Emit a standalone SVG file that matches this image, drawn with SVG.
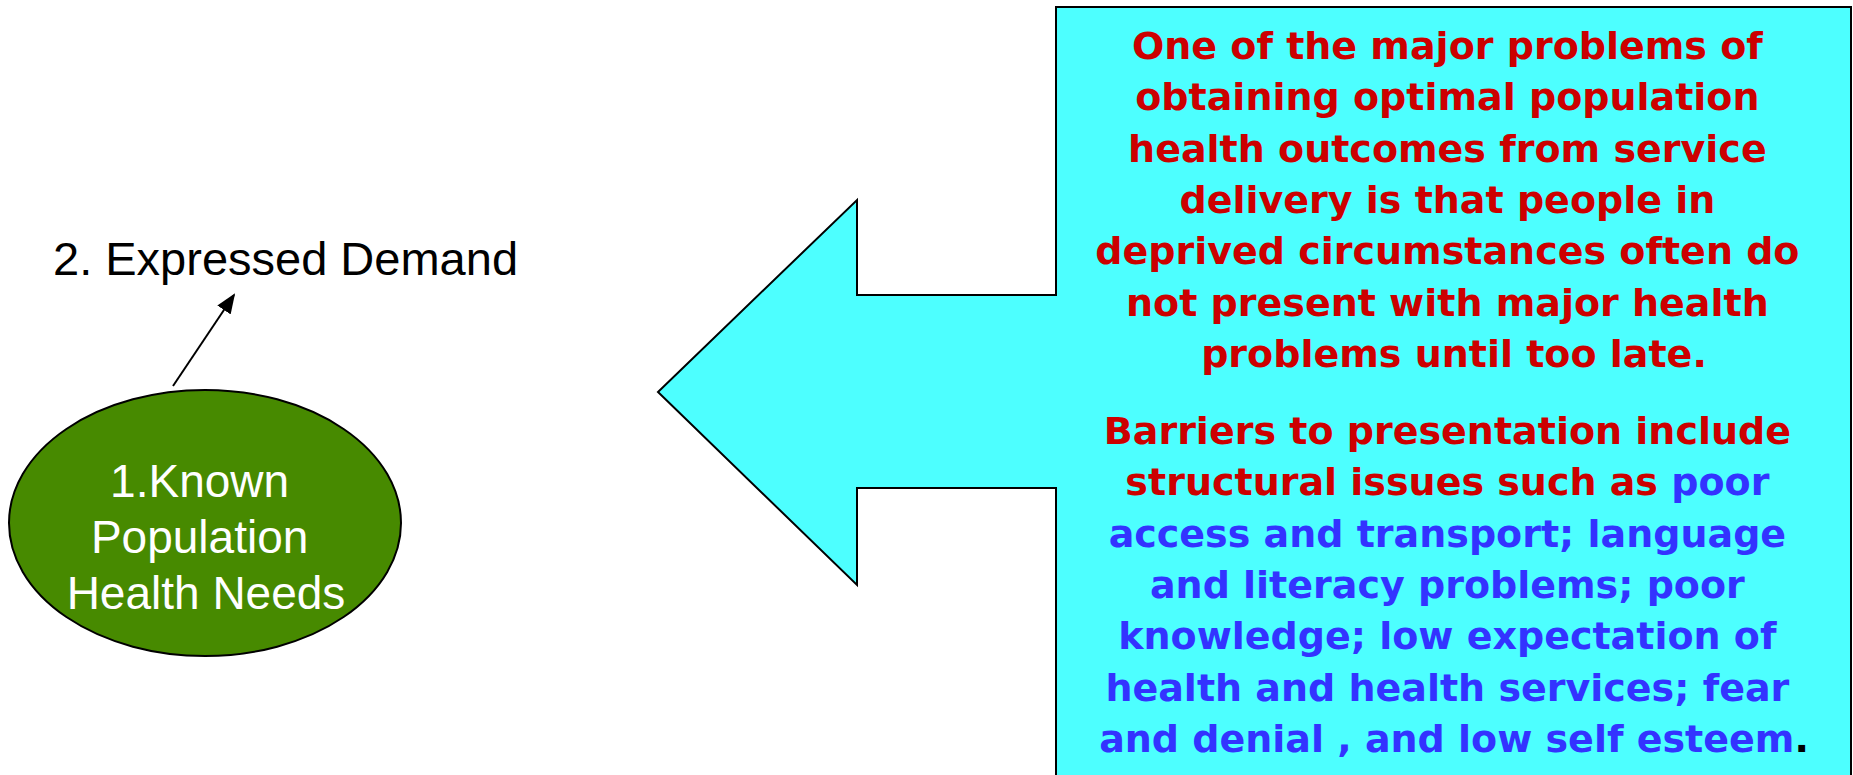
<svg xmlns="http://www.w3.org/2000/svg" width="1853" height="775" viewBox="0 0 1853 775">
  <style>
    .label { font-family: "Liberation Sans", Arial, sans-serif; font-size: 47px; }
    .node-text { font-family: "Liberation Sans", Arial, sans-serif; font-size: 46px; fill: #ffffff; text-anchor: middle; }
    .callout-text { font-family: "DejaVu Sans", Verdana, sans-serif; font-size: 38px; font-weight: bold; text-anchor: middle; }
    .red { fill: #cc0000; }
    .blue { fill: #3333ff; }
    .black { fill: #000000; }
  </style>
  <defs>
    <marker id="arrowhead" markerWidth="10" markerHeight="8" refX="9" refY="4" orient="auto" markerUnits="strokeWidth">
      <path d="M0,0 L10,4 L0,8 Z" fill="#000000"/>
    </marker>
  </defs>
  <rect x="0" y="0" width="1853" height="775" fill="#ffffff"/>

  <!-- Left-pointing callout with explanatory text -->
  <g id="callout">
    <path d="M1056,7 H1851 V790 H1056 V488 H857 V585 L658,392 L857,200 V295 H1056 Z" fill="#4dffff" stroke="#000000" stroke-width="2"/>
    <text class="callout-text red">
      <tspan x="1454" y="59">One of the major problems of</tspan>
      <tspan x="1454" y="110">obtaining optimal population</tspan>
      <tspan x="1454" y="162">health outcomes from service</tspan>
      <tspan x="1454" y="213">delivery is that people in</tspan>
      <tspan x="1454" y="264">deprived circumstances often do</tspan>
      <tspan x="1454" y="316">not present with major health</tspan>
      <tspan x="1454" y="367">problems until too late.</tspan>
    </text>
    <text class="callout-text">
      <tspan x="1454" y="444" class="red">Barriers to presentation include</tspan>
      <tspan x="1454" y="495"><tspan class="red">structural issues such as </tspan><tspan class="blue">poor</tspan></tspan>
      <tspan x="1454" y="547" class="blue">access and transport; language</tspan>
      <tspan x="1454" y="598" class="blue">and literacy problems; poor</tspan>
      <tspan x="1454" y="649" class="blue">knowledge; low expectation of</tspan>
      <tspan x="1454" y="701" class="blue">health and health services; fear</tspan>
      <tspan x="1454" y="752"><tspan class="blue">and denial , and low self esteem</tspan><tspan class="black">.</tspan></tspan>
    </text>
  </g>

  <!-- Node 1: known population health needs -->
  <g id="node-known-needs">
    <ellipse cx="205" cy="523" rx="196" ry="133" fill="#478a00" stroke="#000000" stroke-width="2"/>
    <text class="node-text">
      <tspan x="206" y="497">1.Known</tspan>
      <tspan x="206" y="553">Population</tspan>
      <tspan x="206" y="609">Health Needs</tspan>
    </text>
  </g>

  <!-- Node 2: expressed demand -->
  <g id="node-expressed-demand">
    <text class="label" x="53" y="275">2. Expressed Demand</text>
  </g>

  <!-- Connectors -->
  <g id="connectors">
    <line x1="173" y1="386" x2="234" y2="295" stroke="#000000" stroke-width="2" marker-end="url(#arrowhead)"/>
  </g>
</svg>
